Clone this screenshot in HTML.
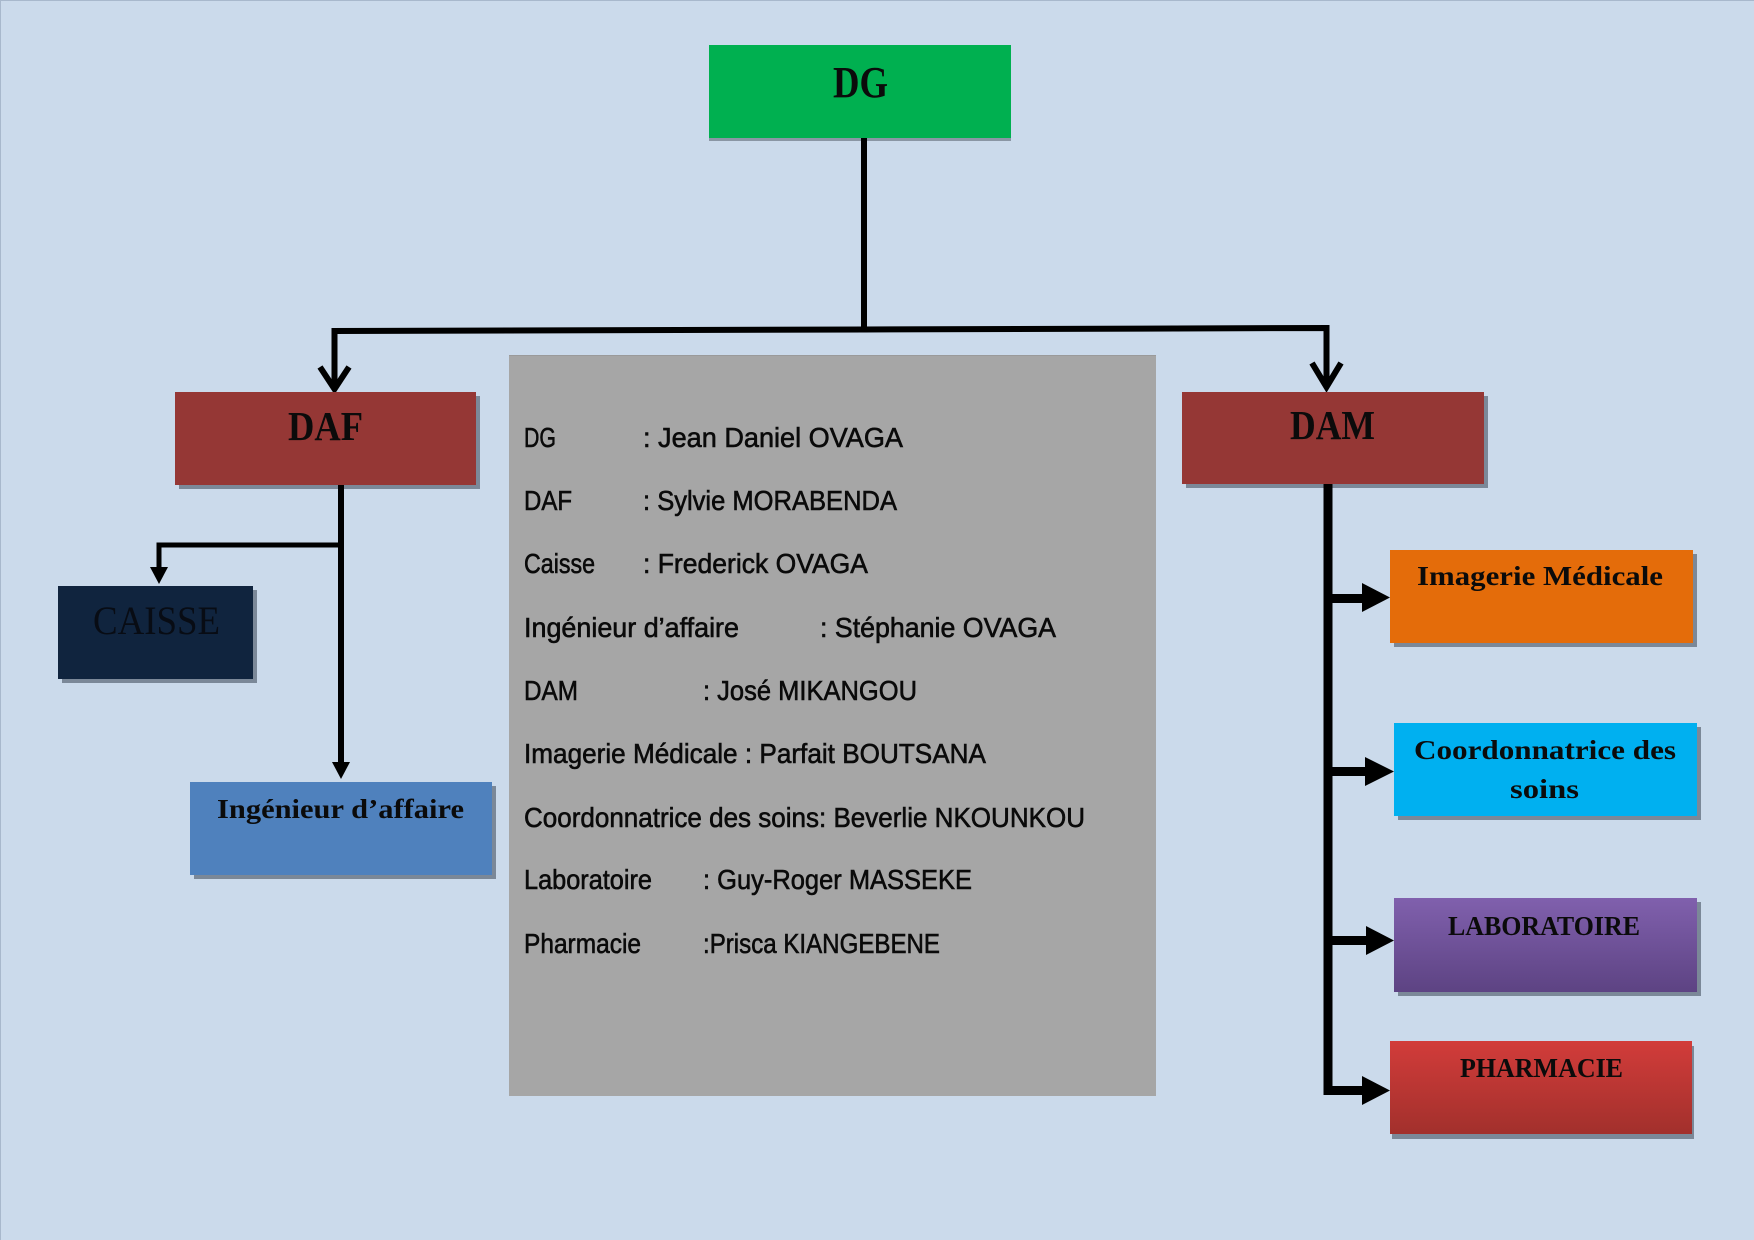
<!DOCTYPE html>
<html>
<head>
<meta charset="utf-8">
<style>
  html,body{margin:0;padding:0;background:#cbdaeb;}
  svg{display:block;}
  .bx{font-family:"Liberation Serif",serif;font-weight:bold;fill:#0b0b0b;}
  .gt{font-family:"Liberation Sans",sans-serif;font-size:28px;fill:#0a0a0a;stroke:#0a0a0a;stroke-width:0.6px;}
</style>
</head>
<body>
<svg width="1754" height="1240" viewBox="0 0 1754 1240" xmlns="http://www.w3.org/2000/svg">
  <defs>
    <linearGradient id="gLab" x1="0" y1="0" x2="0" y2="1">
      <stop offset="0" stop-color="#8060ad"/>
      <stop offset="1" stop-color="#5d4383"/>
    </linearGradient>
    <linearGradient id="gPh" x1="0" y1="0" x2="0" y2="1">
      <stop offset="0" stop-color="#d23c3a"/>
      <stop offset="1" stop-color="#a2302c"/>
    </linearGradient>
  </defs>

  <!-- background -->
  <rect x="0" y="0" width="1754" height="1240" fill="#cbdaeb"/>
  <rect x="0" y="0" width="1754" height="1" fill="#a8b8cc"/>
  <rect x="0" y="0" width="1" height="1240" fill="#a8b8cc"/>

  <!-- DG -->
  <rect x="709" y="48" width="302" height="93" fill="#8a96a4"/>
  <rect x="709" y="45" width="302" height="93" fill="#00b050"/>
  <text class="bx" x="833" y="97" font-size="44" textLength="55" lengthAdjust="spacingAndGlyphs">DG</text>

  <!-- top connectors -->
  <line x1="864" y1="138" x2="864" y2="331" stroke="#000" stroke-width="6"/>
  <path d="M334.5 388 L334.5 331 L864 329.5 L1326.5 328 L1326.5 387" fill="none" stroke="#000" stroke-width="6" stroke-linejoin="miter"/>
  <path d="M320 367 L334.5 389 L349 367" fill="none" stroke="#000" stroke-width="6" stroke-linejoin="miter"/>
  <path d="M1312 363 L1326.5 387 L1341 363" fill="none" stroke="#000" stroke-width="6" stroke-linejoin="miter"/>

  <!-- DAF -->
  <rect x="179" y="396" width="301" height="93" fill="#7b8898"/>
  <rect x="175" y="392" width="301" height="93" fill="#953735"/>
  <text class="bx" x="288" y="440" font-size="41" textLength="75" lengthAdjust="spacingAndGlyphs">DAF</text>

  <!-- DAM -->
  <rect x="1186" y="396" width="302" height="92" fill="#7b8898"/>
  <rect x="1182" y="392" width="302" height="92" fill="#953735"/>
  <text class="bx" x="1290" y="439" font-size="41" textLength="85" lengthAdjust="spacingAndGlyphs">DAM</text>

  <!-- DAF connectors -->
  <line x1="341" y1="485" x2="341" y2="765" stroke="#000" stroke-width="6"/>
  <polygon points="332,762 350,762 341,779" fill="#000"/>
  <path d="M341 545 L159 545 L159 569" fill="none" stroke="#000" stroke-width="5"/>
  <polygon points="150,567 168,567 159,584" fill="#000"/>

  <!-- CAISSE -->
  <rect x="62" y="590" width="195" height="93" fill="#7b8898"/>
  <rect x="58" y="586" width="195" height="93" fill="#10243e"/>
  <text x="93" y="634" font-family="'Liberation Serif',serif" font-size="40" fill="#080c14" textLength="127" lengthAdjust="spacingAndGlyphs">CAISSE</text>

  <!-- Ingenieur d'affaire -->
  <rect x="194" y="786" width="302" height="93" fill="#7b8898"/>
  <rect x="190" y="782" width="302" height="93" fill="#4f81bd"/>
  <text class="bx" x="217" y="818" font-size="27" fill="#0a1226" textLength="247" lengthAdjust="spacingAndGlyphs">Ingénieur d’affaire</text>

  <!-- Gray info box -->
  <rect x="509" y="355" width="647" height="741" fill="#a6a6a6"/>
  <rect x="509" y="355" width="647" height="1" fill="#9a9a9a"/>

  <text class="gt" x="524" y="447" textLength="32" lengthAdjust="spacingAndGlyphs">DG</text>
  <text class="gt" x="643" y="447" textLength="260" lengthAdjust="spacingAndGlyphs">: Jean Daniel OVAGA</text>

  <text class="gt" x="524" y="510" textLength="48" lengthAdjust="spacingAndGlyphs">DAF</text>
  <text class="gt" x="643" y="510" textLength="254" lengthAdjust="spacingAndGlyphs">: Sylvie MORABENDA</text>

  <text class="gt" x="524" y="573" textLength="71" lengthAdjust="spacingAndGlyphs">Caisse</text>
  <text class="gt" x="643" y="573" textLength="225" lengthAdjust="spacingAndGlyphs">: Frederick OVAGA</text>

  <text class="gt" x="524" y="637" textLength="215" lengthAdjust="spacingAndGlyphs">Ingénieur d’affaire</text>
  <text class="gt" x="820" y="637" textLength="236" lengthAdjust="spacingAndGlyphs">: Stéphanie OVAGA</text>

  <text class="gt" x="524" y="700" textLength="54" lengthAdjust="spacingAndGlyphs">DAM</text>
  <text class="gt" x="703" y="700" textLength="214" lengthAdjust="spacingAndGlyphs">: José MIKANGOU</text>

  <text class="gt" x="524" y="763" textLength="462" lengthAdjust="spacingAndGlyphs">Imagerie Médicale : Parfait BOUTSANA</text>

  <text class="gt" x="524" y="827" textLength="561" lengthAdjust="spacingAndGlyphs">Coordonnatrice des soins: Beverlie NKOUNKOU</text>

  <text class="gt" x="524" y="889" textLength="128" lengthAdjust="spacingAndGlyphs">Laboratoire</text>
  <text class="gt" x="703" y="889" textLength="269" lengthAdjust="spacingAndGlyphs">: Guy-Roger MASSEKE</text>

  <text class="gt" x="524" y="953" textLength="117" lengthAdjust="spacingAndGlyphs">Pharmacie</text>
  <text class="gt" x="703" y="953" textLength="237" lengthAdjust="spacingAndGlyphs">:Prisca KIANGEBENE</text>

  <!-- DAM connectors -->
  <line x1="1328" y1="484" x2="1328" y2="1095" stroke="#000" stroke-width="9"/>
  <rect x="1324" y="594" width="42" height="9" fill="#000"/>
  <polygon points="1362,583 1362,612 1390,597.5" fill="#000"/>
  <rect x="1324" y="767" width="45" height="9" fill="#000"/>
  <polygon points="1365,757 1365,786 1394,771.5" fill="#000"/>
  <rect x="1324" y="936" width="45" height="9" fill="#000"/>
  <polygon points="1366,926 1366,955 1394,940.5" fill="#000"/>
  <rect x="1324" y="1086" width="42" height="9" fill="#000"/>
  <polygon points="1362,1076 1362,1105 1390,1090.5" fill="#000"/>

  <!-- Imagerie Medicale -->
  <rect x="1394" y="554" width="303" height="93" fill="#7b8898"/>
  <rect x="1390" y="550" width="303" height="93" fill="#e46c0a"/>
  <text class="bx" x="1417" y="585" font-size="27" textLength="246" lengthAdjust="spacingAndGlyphs">Imagerie Médicale</text>

  <!-- Coordonnatrice -->
  <rect x="1398" y="727" width="303" height="93" fill="#7b8898"/>
  <rect x="1394" y="723" width="303" height="93" fill="#00b0f0"/>
  <text class="bx" x="1414" y="759" font-size="27" fill="#0a1226" textLength="262" lengthAdjust="spacingAndGlyphs">Coordonnatrice des</text>
  <text class="bx" x="1510" y="798" font-size="27" fill="#0a1226" textLength="69" lengthAdjust="spacingAndGlyphs">soins</text>

  <!-- LABORATOIRE -->
  <rect x="1398" y="902" width="303" height="94" fill="#7b8898"/>
  <rect x="1394" y="898" width="303" height="94" fill="url(#gLab)"/>
  <text class="bx" x="1448" y="935" font-size="27" textLength="192" lengthAdjust="spacingAndGlyphs">LABORATOIRE</text>

  <!-- PHARMACIE -->
  <rect x="1392" y="1046" width="302" height="93" fill="#7b8898"/>
  <rect x="1390" y="1041" width="302" height="93" fill="url(#gPh)"/>
  <text class="bx" x="1460" y="1077" font-size="27" textLength="163" lengthAdjust="spacingAndGlyphs">PHARMACIE</text>
</svg>
</body>
</html>
